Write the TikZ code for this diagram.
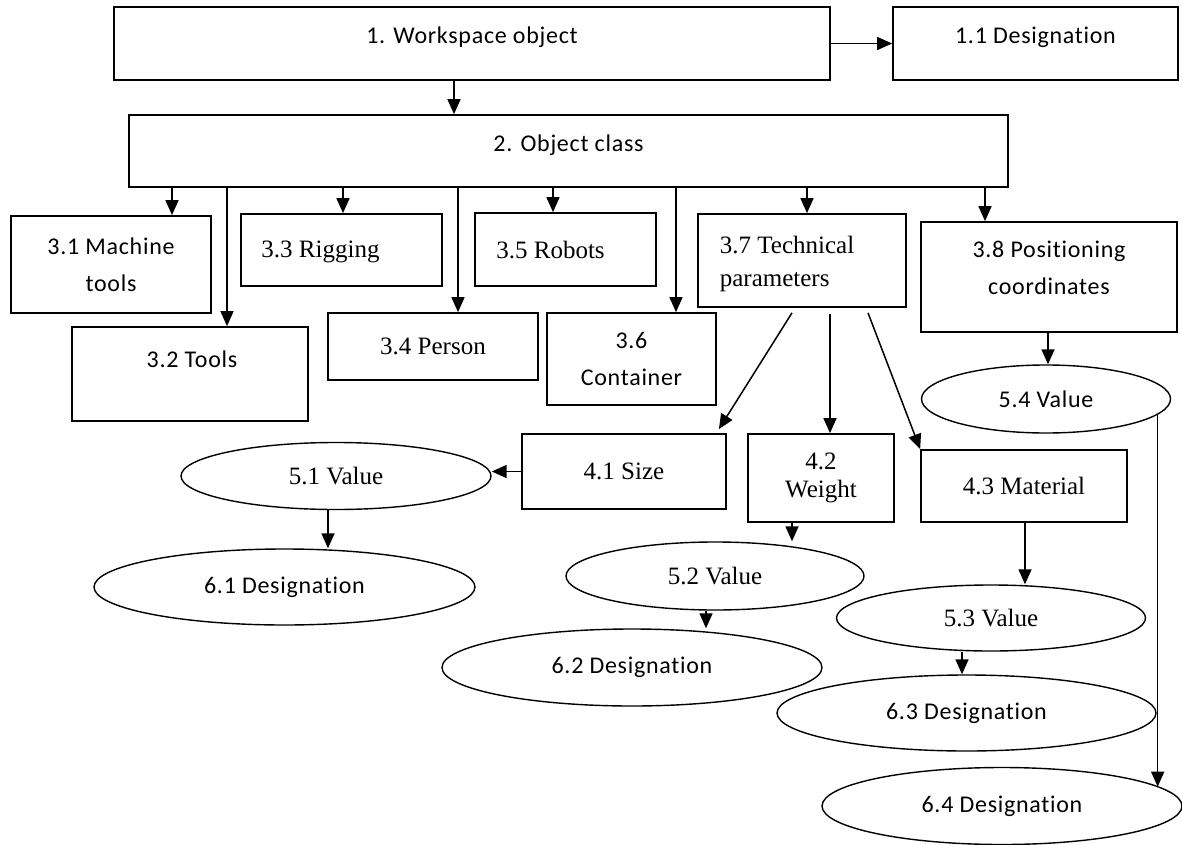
\documentclass[tikz,border=0pt]{standalone}
\usepackage{fontspec}
\newfontfamily\calfont[Ligatures=NoCommon,LetterSpace=3]{Carlito}
\newfontfamily\timesfont{Liberation Serif}
\usetikzlibrary{shapes.geometric,arrows.meta}
\tikzset{
	blk/.style={draw,rectangle,line width=1.7pt,inner sep=0pt,align=center},
	oval/.style={draw,ellipse,line width=1.4pt,inner sep=0pt,align=center},
	sans/.style={font=\calfont\fontsize{24}{37}\selectfont,align=center},
	ser/.style={font=\timesfont\fontsize{25}{28}\selectfont,align=center},
	arr/.style={-{Triangle[length=15pt,width=13pt]},line width=1.5pt},
	sz/.style 2 args={minimum width=#1pt,minimum height=#2pt}
}

\begin{document}
\begin{tikzpicture}[x=1pt,y=-1pt]
	\useasboundingbox[fill=white] (0,0) rectangle (1182,845);
	% x positions of the vertical connectors
	\coordinate (x12) at (454,0);
	\coordinate (x31) at (172,0);
	\coordinate (x32) at (227,0);
	\coordinate (x33) at (343,0);
	\coordinate (x34) at (458,0);
	\coordinate (x35) at (553,0);
	\coordinate (x36) at (676,0);
	\coordinate (x37) at (807,0);
	\coordinate (x38) at (985,0);
	\coordinate (x61) at (328,0);
	\coordinate (x52) at (792,0);
	\coordinate (x62) at (706,0);
	\coordinate (x53) at (1025,0);
	\coordinate (x63) at (962,0);
	\coordinate (x54) at (1048,0);

	% levels 1 and 2
	\node[blk,sz={716}{73},label={[sans,yshift=6pt]center:1. Workspace object}] (b1) at (472,43.5) {};
	\node[blk,sz={285}{73},label={[sans,yshift=6pt]center:1.1 Designation}] (b11) at (1035.5,43.5) {};
	\node[blk,sz={879}{72},label={[sans,yshift=6pt]center:2. Object class}] (b2) at (568.5,151) {};

	% level 3
	\node[blk,sans,sz={200}{97}] (b31) at (111,264.5) {3.1 Machine\\tools};
	\node[blk,sz={236}{94},label={[sans,xshift=2pt,yshift=15pt]center:3.2 Tools}] (b32) at (190,374) {};
	\node[blk,sz={201}{72},label={[ser,xshift=-21pt,yshift=-2pt]center:3.3 Rigging}] (b33) at (341.5,250) {};
	\node[blk,ser,sz={210}{67}] (b34) at (433,346.5) {3.4 Person};
	\node[blk,sz={181}{73},label={[ser,xshift=-15pt,yshift=-1pt]center:3.5 Robots}] (b35) at (565.5,249.5) {};
	\node[blk,sans,sz={169}{92}] (b36) at (631.5,359) {3.6\\Container};
	\node[blk,sz={208}{93},label={[font=\timesfont\fontsize{25}{33}\selectfont,align=left,xshift=-15pt,yshift=-3pt]center:3.7 Technical\\parameters}] (b37) at (802,260.5) {};
	\node[blk,sz={256}{110},label={[sans,yshift=9pt]center:3.8 Positioning\\coordinates}] (b38) at (1049,277) {};

	% level 4
	\node[blk,ser,sz={204}{75}] (b41) at (624,471.5) {4.1 Size};
	\node[blk,ser,sz={146}{88}] (b42) at (821,478) {4.2\\Weight};
	\node[blk,ser,sz={206}{72}] (b43) at (1024,486) {4.3 Material};

	% values and designations
	\node[oval,ser,sz={310}{67}] (e51) at (336,476) {5.1 Value};
	\node[oval,sans,sz={381}{76}] (e61) at (284.5,587) {6.1 Designation};
	\node[oval,ser,sz={298}{68}] (e52) at (715,576) {5.2 Value};
	\node[oval,sans,sz={380}{77}] (e62) at (632,667.5) {6.2 Designation};
	\node[oval,ser,sz={309}{66}] (e53) at (991,618) {5.3 Value};
	\node[oval,sans,sz={379}{76}] (e63) at (966.5,713) {6.3 Designation};
	\node[oval,sans,sz={249}{68}] (e54) at (1046,399) {5.4 Value};
	\node[oval,sans,sz={360}{77}] (e64) at (1002,806) {6.4 Designation};

	% connectors
	\draw[arr] (b1) -- (b11);
	\draw[arr] (b1.south -| x12) -- (b2.north -| x12);
	\foreach \n in {31,32,33,34,35,36,37,38}
		\draw[arr] (b2.south -| x\n) -- (b\n.north -| x\n);
	\draw[arr] ([xshift=-10pt,yshift=-5pt]b37.south) -- ([xshift=-8pt,yshift=4pt]b41.north east);
	\draw[arr] ([xshift=28pt,yshift=-6pt]b37.south) -- ([xshift=9pt]b42.north);
	\draw[arr] ([xshift=66pt,yshift=-5pt]b37.south) -- (b43.north west);
	\draw[arr] (b41.west) -- (b41.west -| e51.east);
	\draw[arr] (e51.south -| x61) -- (e61.north -| x61);
	\draw[arr] (b42.south -| x52) -- (e52.north -| x52);
	\draw[arr] (e52.south -| x62) -- (e62.north -| x62);
	\draw[arr] (b43.south -| x53) -- (e53.north -| x53);
	\draw[arr] (e53.south -| x63) -- (e63.north -| x63);
	\draw[arr] (b38.south -| x54) -- (e54.north -| x54);
	\draw[arr] (e54.352) -- (e54.352 |- e64.7);
\end{tikzpicture}
\end{document}
